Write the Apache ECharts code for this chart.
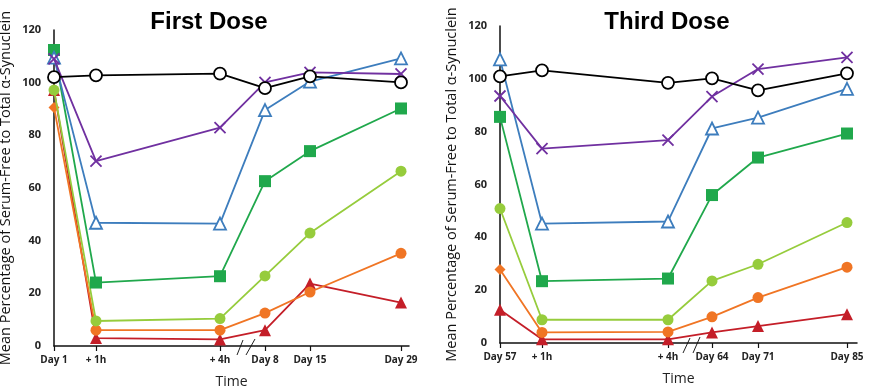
<!DOCTYPE html>
<html><head><meta charset="utf-8">
<script src="https://cdn.jsdelivr.net/npm/echarts@6/dist/echarts.min.js"></script>
<style>html,body{margin:0;padding:0;background:#fff}#c{width:869px;height:386px}</style>
</head><body><div id="c"></div>
<script>
// Tick labels and their positions along the (broken) time axis
const labels1 = ['Day 1', '+ 1h', '+ 4h', 'Day 8', 'Day 15', 'Day 29'];
const xPos1 = [0, 42, 166, 211, 256, 347];
const labels2 = ['Day 57', '+ 1h', '+ 4h', 'Day 64', 'Day 71', 'Day 85'];
const xPos2 = [0, 42, 168, 212, 258, 347];
const yTicks = [0, 20, 40, 60, 80, 100, 120];

// First dose series
const black1  = [102.1, 102.8, 103.4, 97.9, 102.4, 100.1];
const purple1 = [109.0, 70.2, 82.9, 100.1, 103.9, 103.3];
const blue1   = [109.5, 46.8, 46.5, 89.6, 100.4, 109.2];
const green1  = [112.4, 24.1, 26.5, 62.6, 74.0, 90.2];
const lime1   = [97.2, 9.5, 10.4, 26.6, 42.9, 66.4];
const orange1 = [90.6, 6.0, 6.0, 12.5, 20.5, 35.2];
const red1    = [97.2, 3.0, 2.5, 6.0, 23.7, 16.5];

// Third dose series
const black2  = [100.9, 103.2, 98.5, 100.2, 95.6, 102.1];
const purple2 = [93.5, 73.6, 76.8, 93.3, 103.7, 108.1];
const blue2   = [107.4, 45.2, 46.0, 81.2, 85.3, 96.2];
const green2  = [85.6, 23.4, 24.4, 56.0, 70.2, 79.3];
const lime2   = [50.9, 8.8, 8.8, 23.5, 29.8, 45.6];
const orange2 = [27.8, 4.0, 4.2, 9.9, 17.2, 28.7];
const red2    = [12.6, 1.4, 1.4, 4.0, 6.4, 10.9];

const styles = [
  {color:'#000000', symbol:'circle', size:12, fill:'#ffffff'},
  {color:'#7030a0', symbol:'cross', size:11, fill:null, cross:true},
  {color:'#3d7dbd', symbol:'triangle', size:12, fill:'#ffffff'},
  {color:'#20a84c', symbol:'rect', size:12, fill:null},
  {color:'#96cc3c', symbol:'circle', size:11, fill:null},
  {color:'#f07524', symbol:'circle', size:11, fill:null},
  {color:'#c41e28', symbol:'triangle', size:12, fill:null}
];
const set1 = [black1, purple1, blue1, green1, lime1, orange1, red1];
const set2 = [black2, purple2, blue2, green2, lime2, orange2, red2];

function mkSeries(sets, pos, idx) {
  return sets.map((vals, i) => {
    const s = styles[i];
    const data = vals.map((v, j) => {
      const d = {value: [pos[j], v]};
      if (i === 5 && j === 0) d.symbol = 'diamond';
      return d;
    });
    return {
      type: 'line', xAxisIndex: idx, yAxisIndex: idx, data: data,
      symbol: s.cross ? 'path://M0,0 L1,1 L0.5,0.5 L0,1 L1,0 L0.5,0.5 Z' : s.symbol,
      symbolSize: s.size, showSymbol: true, clip: false, z: 10 - i,
      lineStyle: {color: s.color, width: 1.8},
      itemStyle: s.cross ? {color: s.color, borderColor: s.color, borderWidth: 1.8}
                         : {color: s.fill || s.color, borderColor: s.color, borderWidth: s.fill ? 1.8 : 0},
      emphasis: {disabled: true}, animation: false
    };
  });
}

function xAx(gi, pos, labs, max) {
  return {
    type: 'value', gridIndex: gi, min: 0, max: max,
    name: 'Time', nameLocation: 'middle', nameGap: 29,
    nameTextStyle: {fontFamily: 'Open Sans', fontSize: 14, color: '#222'},
    axisLine: {show: true, lineStyle: {color: '#111', width: 1.5}},
    splitLine: {show: false},
    axisTick: {show: true, customValues: pos, length: 5, lineStyle: {color: '#111', width: 1.2}},
    axisLabel: {customValues: pos, margin: 9, fontFamily: 'Open Sans', fontWeight: 'bold', fontSize: 10, color: '#222',
      formatter: v => { const k = pos.indexOf(v); return k >= 0 ? labs[k] : ''; }}
  };
}
function yAx(gi, gap) {
  return {
    type: 'value', gridIndex: gi, min: 0, max: 120, interval: 20,
    name: 'Mean Percentage of Serum-Free to Total α-Synuclein', nameLocation: 'middle', nameGap: gap,
    nameTextStyle: {fontFamily: 'Open Sans', fontSize: 14.5, color: '#111'},
    axisLine: {show: true, lineStyle: {color: '#111', width: 1.5}},
    axisTick: {show: false}, splitLine: {show: false},
    axisLabel: {fontFamily: 'Open Sans', fontWeight: 'bold', fontSize: 11, color: '#222', margin: 13}
  };
}

const chart = echarts.init(document.getElementById('c'), null, {renderer: 'canvas'});
chart.setOption({
  backgroundColor: '#fff',
  animation: false,
  title: [
    {text: 'First Dose', left: 204, top: 5, textAlign: 'center',
     textStyle: {fontFamily: 'Liberation Sans', fontWeight: 'bold', fontSize: 24, color: '#000'}},
    {text: 'Third Dose', left: 662, top: 5, textAlign: 'center',
     textStyle: {fontFamily: 'Liberation Sans', fontWeight: 'bold', fontSize: 24, color: '#000'}}
  ],
  grid: [
    {left: 54, top: 30, width: 355, bottom: 40, containLabel: false, outerBoundsMode: 'none'},
    {left: 500, top: 26, width: 357, bottom: 43, containLabel: false, outerBoundsMode: 'none'}
  ],
  xAxis: [xAx(0, xPos1, labels1, 355), xAx(1, xPos2, labels2, 357)],
  yAxis: [yAx(0, 41), yAx(1, 41)],
  series: mkSeries(set1, xPos1, 0).concat(mkSeries(set2, xPos2, 1)),
  graphic: [
    {type: 'line', shape: {x1: 237, y1: 355, x2: 243, y2: 340}, style: {stroke: '#222', lineWidth: 1}},
    {type: 'line', shape: {x1: 246, y1: 355, x2: 255, y2: 339}, style: {stroke: '#222', lineWidth: 1}},
    {type: 'line', shape: {x1: 683, y1: 353, x2: 690, y2: 338}, style: {stroke: '#222', lineWidth: 1}},
    {type: 'line', shape: {x1: 693, y1: 353, x2: 700, y2: 337}, style: {stroke: '#222', lineWidth: 1}}
  ]
});
</script></body></html>
